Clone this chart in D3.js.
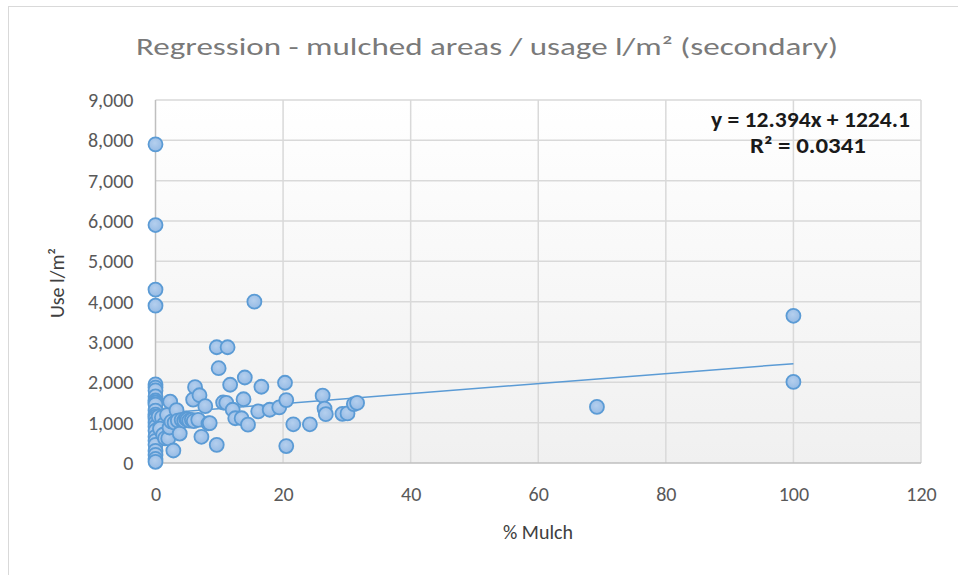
<!DOCTYPE html>
<html>
<head>
<meta charset="utf-8">
<script src="https://cdn.jsdelivr.net/npm/d3@7"></script>
<style>
  html, body { margin: 0; padding: 0; background: #fff; }
  svg { display: block; font-family: Carlito, Lato, "Open Sans", sans-serif; }
</style>
</head>
<body>
<svg id="chart" width="958" height="575"></svg>
<script>
// ---- data ----
const title = "Regression - mulched areas / usage l/m² (secondary)";
const xLabel = "% Mulch";
const yLabel = "Use l/m²";
const xTicks = [0, 20, 40, 60, 80, 100, 120];
const yTicks = [0, 1000, 2000, 3000, 4000, 5000, 6000, 7000, 8000, 9000];

// % mulch for each observation
const mulch = [
  0, 0, 0, 0, 0, 0, 0, 0, 0, 0, 0, 0, 0, 0, 0, 0, 0, 0, 0, 0, 0, 0, 0, 0, 0,
  0.5, 1.0, 1.0, 1.3, 0.7, 1.2, 1.5, 1.8, 2.0, 2.2, 2.3, 2.5, 2.8, 3.0, 3.3, 3.5, 3.8,
  4.1, 4.5, 4.8, 5.0, 5.3, 5.7, 5.9, 6.0, 6.2, 6.7, 6.9, 7.2, 7.8, 8.3, 8.5,
  9.6, 9.6, 9.9, 10.6, 11.1, 11.3, 11.7, 12.1, 12.5, 13.5, 13.8, 14.0, 14.5,
  15.5, 16.1, 16.6, 17.9, 19.4, 20.3, 20.5, 20.5, 21.6, 24.2,
  26.2, 26.5, 26.7, 29.3, 30.1, 31.1, 31.6, 69.2, 100, 100
];
// use l/m² for each observation
const usage = [
  7900, 5900, 4300, 3900, 1950, 1870, 1800, 1650, 1550, 1500, 1450, 1300, 1200, 1150, 1100, 1000, 900, 800, 650, 550, 450, 300, 200, 100, 30,
  1150, 780, 1130, 950, 850, 700, 610, 1190, 610, 880, 1520, 1025, 310, 1000, 1310, 1050, 730,
  1070, 1050, 1100, 1080, 1050, 1070, 1570, 1040, 1880, 1070, 1680, 650, 1410, 980, 990,
  450, 2870, 2350, 1500, 1490, 2870, 1940, 1320, 1110, 1110, 1580, 2120, 950,
  4000, 1280, 1890, 1320, 1380, 1990, 1560, 420, 960, 960,
  1670, 1350, 1210, 1220, 1230, 1460, 1490, 1390, 3650, 2010
];
// linear trendline (as displayed)
const slope = 12.394;
const intercept = 1224.1;
const trendRange = [0, 100];
const eqText = "y = 12.394x + 1224.1";
const r2Text = "R² = 0.0341";

// ---- drawing ----
const svg = d3.select("#chart");
const plot = { left: 155.5, right: 921, top: 100, bottom: 463 };

const x = d3.scaleLinear().domain([0, 120]).range([plot.left, plot.right]);
const y = d3.scaleLinear().domain([0, 9000]).range([plot.bottom, plot.top]);

// chart border
svg.append("rect").attr("x", 8.5).attr("y", 6.5).attr("width", 1000).attr("height", 1000)
  .attr("fill", "none").attr("stroke", "#d9d9d9").attr("stroke-width", 1);

const defs = svg.append("defs");
const bg = defs.append("linearGradient").attr("id", "bg").attr("x1", 0).attr("y1", 0).attr("x2", 0).attr("y2", 1);
bg.append("stop").attr("offset", "0%").attr("stop-color", "#ffffff");
bg.append("stop").attr("offset", "100%").attr("stop-color", "#f0f0f0");
const pt = defs.append("radialGradient").attr("id", "pt").attr("cx", "45%").attr("cy", "40%").attr("r", "65%");
pt.append("stop").attr("offset", "0%").attr("stop-color", "#b4cfee");
pt.append("stop").attr("offset", "100%").attr("stop-color", "#93b9e4");

svg.append("rect")
  .attr("x", plot.left).attr("y", plot.top)
  .attr("width", plot.right - plot.left).attr("height", plot.bottom - plot.top)
  .attr("fill", "url(#bg)");

// gridlines
svg.append("g").selectAll("line").data(yTicks.filter(d => d > 0)).join("line")
  .attr("x1", plot.left).attr("x2", plot.right)
  .attr("y1", d => y(d)).attr("y2", d => y(d))
  .attr("stroke", "#d9d9d9").attr("stroke-width", 1.5);
svg.append("g").selectAll("line").data(xTicks.filter(d => d > 0)).join("line")
  .attr("y1", plot.top).attr("y2", plot.bottom)
  .attr("x1", d => x(d)).attr("x2", d => x(d))
  .attr("stroke", "#d9d9d9").attr("stroke-width", 1.5);

// axes lines
svg.append("line").attr("x1", plot.left).attr("x2", plot.right).attr("y1", plot.bottom).attr("y2", plot.bottom)
  .attr("stroke", "#bfbfbf").attr("stroke-width", 1.5);
svg.append("line").attr("x1", plot.left).attr("x2", plot.left).attr("y1", plot.top).attr("y2", plot.bottom)
  .attr("stroke", "#bfbfbf").attr("stroke-width", 1.5);

// axes via d3 (labels only)
const yAxis = d3.axisLeft(y).tickValues(yTicks).tickFormat(d3.format(",")).tickSize(0).tickPadding(22);
const gy = svg.append("g").attr("transform", `translate(${plot.left},0)`).call(yAxis);
gy.select(".domain").remove();
gy.selectAll("text").attr("font-size", 20).attr("fill", "#595959").attr("font-family", "Carlito, Lato, sans-serif");

const xAxis = d3.axisBottom(x).tickValues(xTicks).tickSize(0).tickPadding(24);
const gx = svg.append("g").attr("transform", `translate(0,${plot.bottom})`).call(xAxis);
gx.select(".domain").remove();
gx.selectAll("text").attr("font-size", 20).attr("fill", "#595959").attr("font-family", "Carlito, Lato, sans-serif");

// trendline
svg.append("line")
  .attr("x1", x(trendRange[0])).attr("y1", y(slope * trendRange[0] + intercept))
  .attr("x2", x(trendRange[1])).attr("y2", y(slope * trendRange[1] + intercept))
  .attr("stroke", "#5b9bd5").attr("stroke-width", 1.5);

// points
const pts = mulch.map((m, i) => ({ m, u: usage[i] }));
svg.append("g").selectAll("circle").data(pts).join("circle")
  .attr("cx", d => x(d.m)).attr("cy", d => y(d.u)).attr("r", 7)
  .attr("fill", "url(#pt)").attr("stroke", "#5b9bd5").attr("stroke-width", 1.8);

// title
svg.append("text").attr("x", 487).attr("y", 55).attr("text-anchor", "middle")
  .attr("font-size", 25).attr("fill", "#7a7a7a")
  .attr("textLength", 702).attr("lengthAdjust", "spacingAndGlyphs")
  .text(title);

// axis titles
svg.append("text").attr("x", 538).attr("y", 539).attr("text-anchor", "middle")
  .attr("font-size", 20).attr("fill", "#404040").text(xLabel);
svg.append("text").attr("transform", "translate(64,283) rotate(-90)").attr("text-anchor", "middle")
  .attr("font-size", 20).attr("fill", "#404040").text(yLabel);

// equation
svg.append("text").attr("x", 910).attr("y", 127).attr("text-anchor", "end")
  .attr("font-size", 22).attr("font-weight", "bold").attr("fill", "#1a1a1a")
  .attr("textLength", 199).attr("lengthAdjust", "spacingAndGlyphs").text(eqText);
svg.append("text").attr("x", 808).attr("y", 153).attr("text-anchor", "middle")
  .attr("font-size", 22).attr("font-weight", "bold").attr("fill", "#1a1a1a")
  .attr("textLength", 116).attr("lengthAdjust", "spacingAndGlyphs").text(r2Text);
</script>
</body>
</html>
